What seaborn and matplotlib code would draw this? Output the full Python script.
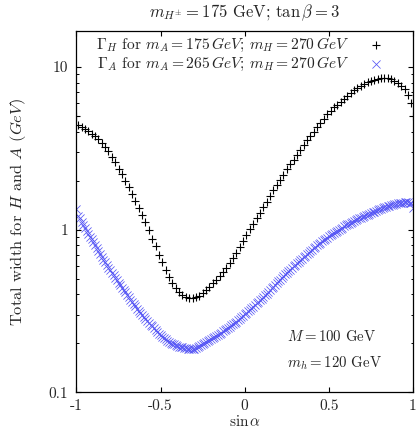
import numpy as np
import pandas as pd
import matplotlib
matplotlib.use("Agg")
import matplotlib.pyplot as plt
from matplotlib.ticker import FixedLocator, LogLocator, NullFormatter
import seaborn as sns

# --- data ---
# Gamma_H: end points at sin(alpha) = -1 and 1, inner points every 0.02
gamma_h_x = np.concatenate([[-1.0], np.arange(100) * 0.02 - 0.99, [1.0]])
gamma_h = [5.0,
           4.41, 4.25, 4.12, 4.01, 3.88, 3.74, 3.58, 3.41, 3.22, 3.02,
           2.81, 2.60, 2.37, 2.18, 1.99, 1.82, 1.65, 1.50, 1.36, 1.23,
           1.11, 0.99, 0.88, 0.79, 0.70, 0.63, 0.566, 0.51, 0.47, 0.438,
           0.415, 0.397, 0.385, 0.379, 0.378, 0.383, 0.393, 0.407, 0.425, 0.445,
           0.468, 0.493, 0.52, 0.552, 0.584, 0.624, 0.672, 0.72, 0.784, 0.853,
           0.93, 1.01, 1.09, 1.18, 1.27, 1.37, 1.48, 1.60, 1.74, 1.88,
           2.02, 2.17, 2.35, 2.52, 2.69, 2.88, 3.09, 3.31, 3.54, 3.77,
           4.00, 4.26, 4.52, 4.81, 5.10, 5.38, 5.64, 5.85, 6.05, 6.31,
           6.61, 6.92, 7.18, 7.44, 7.67, 7.88, 8.06, 8.22, 8.35, 8.45,
           8.53, 8.57, 8.56, 8.44, 8.23, 7.95, 7.64, 7.28, 6.75, 6.00,
           5.0]

# Gamma_A: every 0.01 from -1 to 1
gamma_a_x = np.linspace(-1, 1, 201)
gamma_a = [1.33,
           1.22, 1.17, 1.12, 1.07, 1.02, 0.975, 0.937, 0.90, 0.87, 0.84,
           0.805, 0.77, 0.74, 0.71, 0.682, 0.655, 0.63, 0.605, 0.585, 0.565,
           0.545, 0.525, 0.507, 0.49, 0.472, 0.455, 0.44, 0.425, 0.411, 0.398,
           0.384, 0.371, 0.359, 0.348, 0.337, 0.327, 0.316, 0.306, 0.297, 0.289,
           0.281, 0.274, 0.267, 0.260, 0.254, 0.248, 0.242, 0.236, 0.230, 0.225,
           0.220, 0.216, 0.212, 0.208, 0.205, 0.202, 0.199, 0.197, 0.195, 0.193,
           0.191, 0.190, 0.189, 0.188, 0.187, 0.186, 0.1855, 0.185, 0.1855, 0.186,
           0.188, 0.190, 0.1925, 0.195, 0.1975, 0.200, 0.203, 0.206, 0.209, 0.212,
           0.2155, 0.219, 0.2225, 0.226, 0.2295, 0.233, 0.237, 0.241, 0.245, 0.249,
           0.2535, 0.258, 0.2625, 0.267, 0.2725, 0.278, 0.2835, 0.289, 0.295, 0.301,
           0.3075, 0.314, 0.321, 0.328, 0.336, 0.344, 0.352, 0.360, 0.3685, 0.377,
           0.386, 0.395, 0.405, 0.415, 0.4255, 0.436, 0.447, 0.458, 0.4695, 0.481,
           0.493, 0.505, 0.5175, 0.530, 0.5425, 0.555, 0.568, 0.581, 0.594, 0.607,
           0.621, 0.635, 0.6495, 0.664, 0.6785, 0.693, 0.708, 0.723, 0.738, 0.753,
           0.7685, 0.784, 0.7995, 0.815, 0.8305, 0.846, 0.8615, 0.877, 0.892, 0.907,
           0.922, 0.937, 0.9525, 0.968, 0.983, 0.998, 1.014, 1.03, 1.045, 1.06,
           1.075, 1.09, 1.105, 1.12, 1.1325, 1.145, 1.1575, 1.17, 1.185, 1.20,
           1.2125, 1.225, 1.2375, 1.25, 1.2625, 1.275, 1.2875, 1.30, 1.315, 1.33,
           1.3425, 1.355, 1.3675, 1.38, 1.39, 1.40, 1.41, 1.42, 1.43, 1.44,
           1.4475, 1.455, 1.46, 1.465, 1.468, 1.47, 1.468, 1.465, 1.45, 1.36]

label_h = r"$\Gamma_H$ for $m_A = 175\,GeV$; $m_H = 270\,GeV$"
label_a = r"$\Gamma_A$ for $m_A = 265\,GeV$; $m_H = 270\,GeV$"

x_ticks = [-1, -0.5, 0, 0.5, 1]
x_tick_labels = ["-1", "-0.5", "0", "0.5", "1"]
y_ticks = [0.1, 1, 10]
y_tick_labels = ["0.1", "1", "10"]

df_h = pd.DataFrame({"sin_alpha": gamma_h_x, "width": gamma_h})
df_a = pd.DataFrame({"sin_alpha": gamma_a_x, "width": gamma_a})

sns.set_theme(style="ticks")
plt.rcParams["font.family"] = ["cmr10", "DejaVu Serif"]
plt.rcParams["mathtext.fontset"] = "cm"
plt.rcParams["axes.formatter.use_mathtext"] = True
plt.rcParams["axes.unicode_minus"] = False

fig = plt.figure(figsize=(4.18, 4.36), dpi=100)
ax = fig.add_axes([0.183, 0.100, 0.805, 0.829])

sns.scatterplot(data=df_h, x="sin_alpha", y="width", ax=ax, marker="+",
                color="black", s=40, linewidth=0.8, label=label_h, zorder=3)
sns.scatterplot(data=df_a, x="sin_alpha", y="width", ax=ax, marker="x",
                color="#5555f5", s=34, linewidth=0.55, label=label_a, zorder=2)

ax.set_yscale("log")
ax.set_xlim(-1, 1)
ax.set_ylim(0.1, 16.6)

ax.xaxis.set_major_locator(FixedLocator(x_ticks))
ax.set_xticklabels(x_tick_labels)
ax.yaxis.set_major_locator(FixedLocator(y_ticks))
ax.set_yticklabels(y_tick_labels)
ax.yaxis.set_minor_locator(LogLocator(base=10, subs=np.arange(2, 10)))
ax.yaxis.set_minor_formatter(NullFormatter())
ax.tick_params(axis="both", which="major", direction="in", length=3.5,
               width=0.8, top=True, right=True, labelsize=11, color="black")
ax.tick_params(axis="x", which="major", pad=5)
ax.tick_params(axis="y", which="major", pad=6)
ax.tick_params(axis="y", which="minor", direction="in", length=1.8,
               width=0.7, right=True, color="black")
ax.tick_params(axis="x", which="minor", bottom=False, top=False)

for sp in ax.spines.values():
    sp.set_color("black")
    sp.set_linewidth(0.9)

ax.set_xlabel(r"$\sin\alpha$", fontsize=11, labelpad=0.5)
ax.set_ylabel(r"Total width for $H$ and $A$ $(GeV)$", fontsize=11.8, labelpad=15)
ax.set_title(r"$m_{H^{\pm}} = 175$ GeV; $\tan\beta = 3$", fontsize=12, pad=10)

ax.text(0.25, 0.219, r"$M = 100$ GeV", fontsize=10.7, ha="left", va="center")
ax.text(0.25, 0.151, r"$m_h = 120$ GeV", fontsize=10.7, ha="left", va="center")

ax.legend(loc="upper right", bbox_to_anchor=(0.958, 1.015), frameon=False,
          markerfirst=False, fontsize=11.2, handletextpad=1.0,
          labelspacing=0.05, borderaxespad=0.3, handlelength=1.5)

fig.savefig("out.png", dpi=100)
